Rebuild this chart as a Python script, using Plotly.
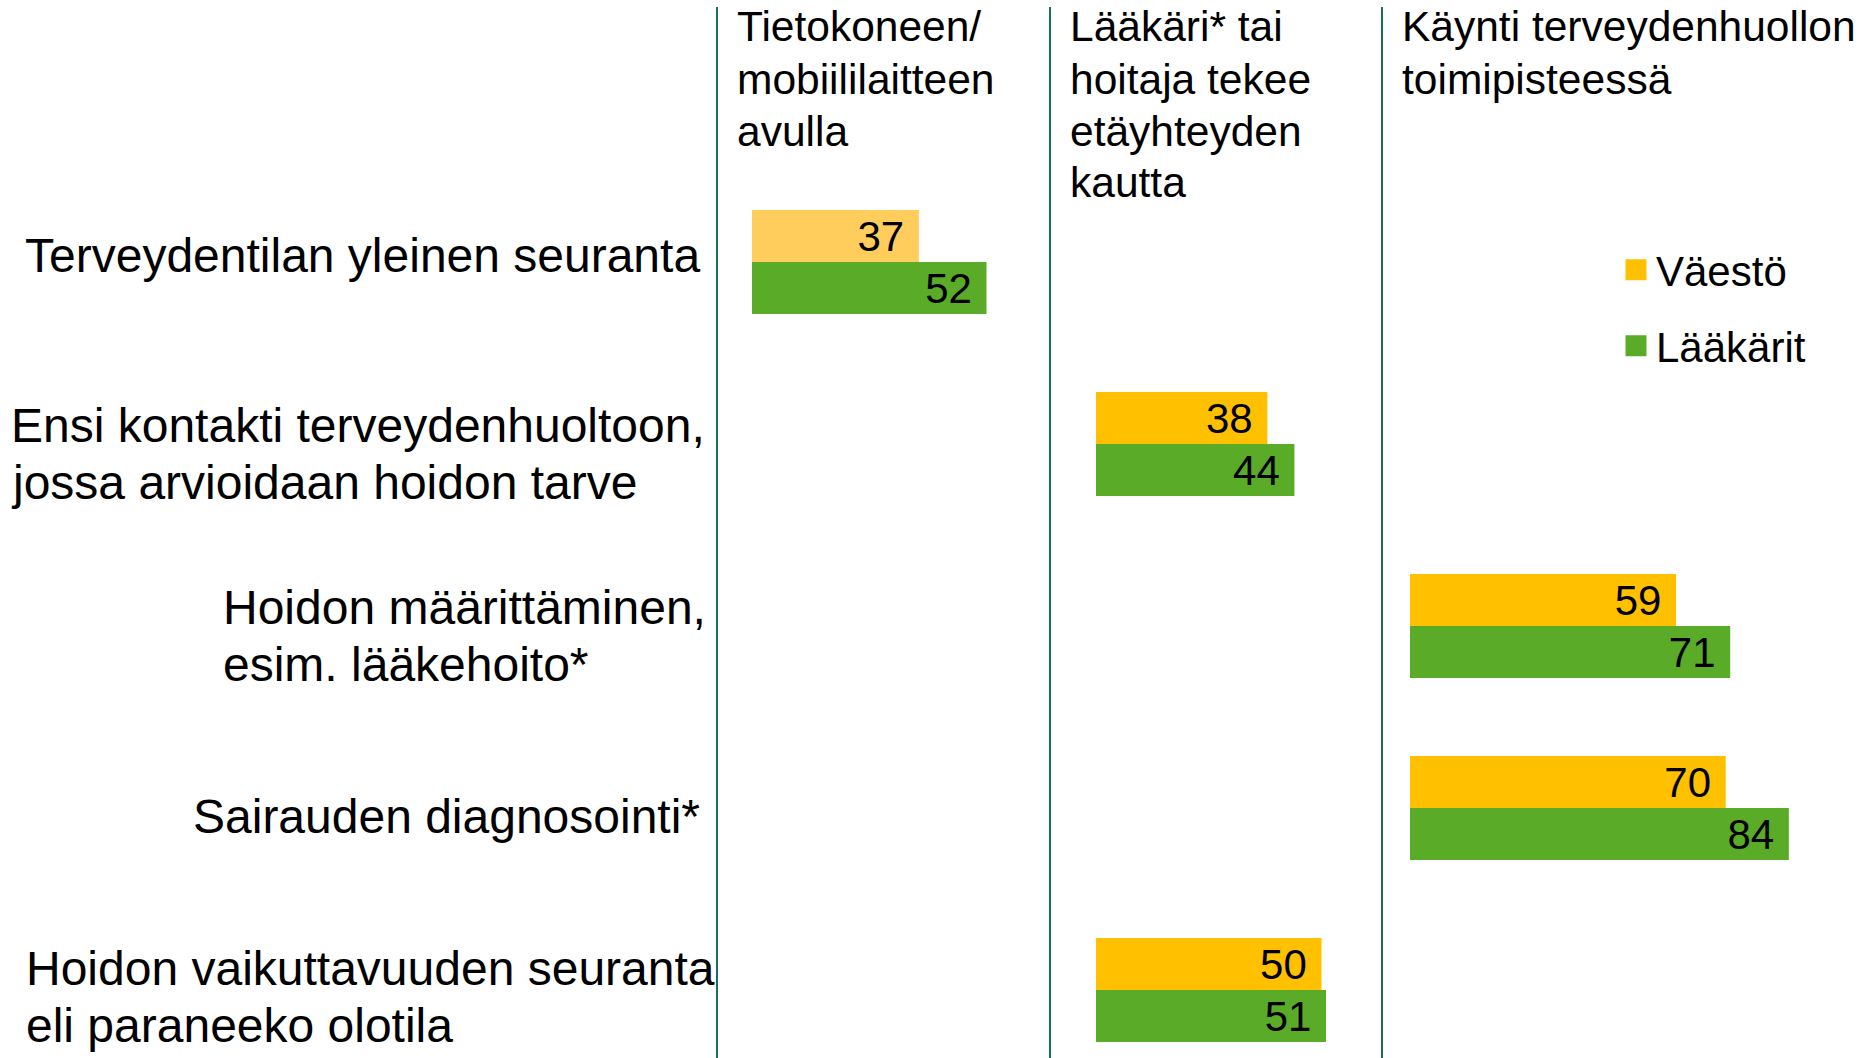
import plotly.graph_objects as go

# ---------------- data ----------------
categories = [
    ["Terveydentilan yleinen seuranta"],
    ["Ensi kontakti terveydenhuoltoon,", "jossa arvioidaan hoidon tarve"],
    ["Hoidon määrittäminen,", "esim. lääkehoito*"],
    ["Sairauden diagnosointi*"],
    ["Hoidon vaikuttavuuden seuranta", "eli paraneeko olotila"],
]
methods = [
    ["Tietokoneen/", "mobiililaitteen", "avulla"],
    ["Lääkäri* tai", "hoitaja tekee", "etäyhteyden", "kautta"],
    ["Käynti terveydenhuollon", "toimipisteessä"],
]
method_of_row = [0, 1, 2, 2, 1]
vaesto = [37, 38, 59, 70, 50]
laakarit = [52, 44, 71, 84, 51]
series_names = ["Väestö", "Lääkärit"]

# ---------------- styling / layout constants ----------------
OX, OY = 0, 0                  # body margin removed via post_script
FW, FH = 1874 - OX, 1058 - OY
FONT = "Liberation Sans, Arial, sans-serif"
VAESTO_COLORS = ["#FFCD5C", "#FFC000", "#FFC000"]
VAESTO_LEGEND = "#FFC000"
LAAKARIT_COLOR = "#5AAB28"
LINE_COLOR = "#1B6E57"

PPU = 4.51            # pixels per percentage unit
ROW0_PX = 262         # window pixel y of first row centre
PITCH = 182           # pixels between rows
BAR_W = 52 / PITCH    # bar thickness in row units
LINE_TOP = 7          # where the column separator lines start

col_lines = [718, 1051, 1383]
col_ends = [1051, 1383, 1874]
bar_starts = [752, 1096, 1410]

T_MARGIN = LINE_TOP - OY
PLOT_H = FH - T_MARGIN
y_range = [(1058 - ROW0_PX) / PITCH, (LINE_TOP - ROW0_PX) / PITCH]


def px_(rx):
    return (rx - OX) / FW


def py(ry):
    return 1 - (ry - LINE_TOP) / PLOT_H


fig = go.Figure()

for c in range(3):
    xa = "x" if c == 0 else f"x{c+1}"
    ya = "y" if c == 0 else f"y{c+1}"
    rows = [r for r in range(len(categories)) if method_of_row[r] == c]
    for s, (vals, color) in enumerate([(vaesto, VAESTO_COLORS[c]), (laakarit, LAAKARIT_COLOR)]):
        xs = [vals[r] for r in rows]
        fig.add_trace(go.Bar(
            x=xs, y=rows, orientation="h",
            width=BAR_W, offset=-BAR_W if s == 0 else 0,
            marker=dict(color=color, line=dict(width=0)),
            text=[f"{v}\u00a0" for v in xs],
            textposition="inside", insidetextanchor="end", textangle=0,
            constraintext="none",
            textfont=dict(size=42, color="black", family=FONT),
            name=series_names[s],
            xaxis=xa, yaxis=ya,
            showlegend=False,
            hoverinfo="skip",
        ))

# legend entries (square keys)
for s, color in enumerate([VAESTO_LEGEND, LAAKARIT_COLOR]):
    fig.add_trace(go.Scatter(
        x=[None], y=[None], mode="markers", name=series_names[s],
        marker=dict(symbol="square", size=16, color=color, line=dict(width=5, color=color)),
        xaxis="x3", yaxis="y3", showlegend=True,
        legend="legend" if s == 0 else "legend2",
        hoverinfo="skip",
    ))

layout = dict(
    width=FW, height=FH,
    margin=dict(l=0, r=0, t=T_MARGIN, b=0, pad=0),
    paper_bgcolor="white", plot_bgcolor="white",
    barmode="overlay",
    font=dict(family=FONT, color="black"),
    showlegend=True,
)
for c in range(3):
    xkey = "xaxis" if c == 0 else f"xaxis{c+1}"
    ykey = "yaxis" if c == 0 else f"yaxis{c+1}"
    xa = "x" if c == 0 else f"x{c+1}"
    layout[xkey] = dict(
        domain=[px_(col_lines[c]), min(1.0, px_(col_ends[c]))],
        range=[(col_lines[c] - bar_starts[c]) / PPU, (col_ends[c] - bar_starts[c]) / PPU],
        visible=False, fixedrange=True,
        anchor="y" if c == 0 else f"y{c+1}",
    )
    layout[ykey] = dict(
        domain=[0, 1], range=y_range, anchor=xa,
        showline=True, linecolor=LINE_COLOR, linewidth=2.5,
        showticklabels=False, ticks="", showgrid=False, zeroline=False,
        fixedrange=True,
    )

leg_common = dict(
    xanchor="left", yanchor="middle", orientation="v",
    font=dict(size=42, family=FONT, color="black"),
    bgcolor="rgba(0,0,0,0)", borderwidth=0, itemwidth=30,
)
layout["legend"] = dict(leg_common, x=px_(1616), y=py(270))
layout["legend2"] = dict(leg_common, x=px_(1616), y=py(346))

annotations = []
# column headers (one annotation per line)
header_x = [737, 1070, 1402]
for c, lines in enumerate(methods):
    for i, line in enumerate(lines):
        annotations.append(dict(
            text=line, xref="paper", yref="paper",
            x=px_(header_x[c] - 2), y=py(27 + 52 * i),
            xanchor="left", yanchor="middle", showarrow=False,
            font=dict(size=42.5, family=FONT, color="black"),
        ))

# row labels (left-aligned block, one annotation per line)
label_left = [25, 11, 223, 193, 26]
label_first_offset = [-7, -19, -19, 8, -22]
LABEL_LINE = 57
for r, lines in enumerate(categories):
    for i, line in enumerate(lines):
        annotations.append(dict(
            text=line, xref="paper", yref="y",
            x=px_(label_left[r] - 2), y=r,
            yshift=-(label_first_offset[r] + LABEL_LINE * i),
            xanchor="left", yanchor="middle", showarrow=False,
            font=dict(size=48, family=FONT, color="black"),
        ))
layout["annotations"] = annotations

fig.update_layout(**layout)
fig.write_html(
    "out.html",
    config={"displayModeBar": False, "staticPlot": True},
    post_script="document.body.style.margin='0';document.body.style.overflow='hidden';",
)
